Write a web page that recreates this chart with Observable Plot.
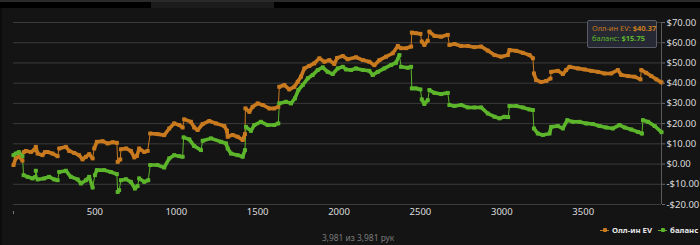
<!DOCTYPE html>
<html>
<head>
<meta charset="utf-8">
<script src="https://cdn.jsdelivr.net/npm/d3@7"></script>
<script src="https://cdn.jsdelivr.net/npm/@observablehq/plot@0.6"></script>
<style>
  html, body { margin: 0; padding: 0; background: #141414; }
  #wrap { position: relative; width: 700px; height: 245px; overflow: hidden; background: #141414; font-family: "Noto Sans", "Open Sans", sans-serif; }
  #topline { position: absolute; left: 0; top: 0; width: 700px; height: 2px; background: #2a2a2a; }
  #band { position: absolute; left: 0; top: 2px; width: 700px; height: 6px; background: #000; }
  #bandtab { position: absolute; left: 151px; top: 2px; width: 123px; height: 6px; background: #1c1c1c; }
  #leftedge { position: absolute; left: 0; top: 8px; width: 2px; height: 237px; background: #0c0c0c; }
  #chart { position: absolute; left: 0; top: 8px; }
  #tip { position: absolute; left: 587px; top: 20px; width: 64px; height: 23px; border: 1px solid #5a5d66; border-radius: 2px; background: #262933; font-size: 7.5px; line-height: 9.5px; padding: 3px 0 0 4px; box-sizing: content-box; white-space: nowrap; }
  #tip b { font-weight: 700; }
  #legend { position: absolute; left: 600px; top: 225px; font-size: 7.8px; font-weight: 700; color: #e8e8e8; white-space: nowrap; display: flex; align-items: center; }
  .ico { display: inline-block; position: relative; width: 9px; height: 9px; margin-right: 3px; }
  .ico i { position: absolute; left: 0; top: 4px; width: 9px; height: 1.5px; }
  .ico s { position: absolute; left: 2.5px; top: 2.5px; width: 4px; height: 4px; border-radius: 1px; }
  #caption { position: absolute; left: 322px; top: 232px; font-size: 8.4px; color: #7c7c7c; white-space: nowrap; }
</style>
</head>
<body>
<div id="wrap">
  <div id="topline"></div>
  <div id="band"></div>
  <div id="bandtab"></div>
  <div id="leftedge"></div>
  <div id="chart"></div>
  <div id="tip"></div>
  <div id="legend"></div>
  <div id="caption"></div>
</div>
<script>
// ---- data ----
const seriesNames = ["Олл-ин EV", "баланс"];
const seriesColors = ["#c97a1f", "#5cb52b"];

const evHands = [0,14,35,55,63,76,107,128,137,148,178,193,209,240,271,281,322,342,373,403,424,445,465,486,496,512,547,578,609,635,640,656,660,691,721,742,758,772,803,824,840,885,926,957,987,1018,1039,1049,1090,1110,1131,1162,1203,1244,1295,1311,1316,1346,1377,1408,1422,1425,1449,1469,1500,1531,1572,1602,1627,1633,1664,1694,1725,1746,1766,1787,1817,1848,1879,1910,1940,1971,1988,2023,2053,2104,2146,2186,2217,2248,2289,2330,2361,2381,2412,2443,2447,2473,2500,2508,2524,2545,2555,2586,2627,2668,2678,2709,2750,2791,2832,2873,2914,2955,2996,3037,3047,3088,3129,3170,3191,3197,3211,3242,3273,3299,3303,3344,3375,3395,3416,3467,3508,3549,3590,3631,3672,3713,3734,3775,3815,3852,3857,3887,3918,3949,3981];
const evValues = [-0.5,2.9,3.7,1.7,5.9,6.5,6.0,6.9,8.5,5.2,4.4,5.9,6.0,5.2,3.9,7.7,8.5,6.5,5.5,4.4,2.3,3.6,4.9,2.8,7.7,11.0,11.3,10.2,10.8,10.5,1.1,2.3,7.3,7.7,6.5,3.3,4.0,7.7,6.0,6.5,15.1,14.8,14.3,17.6,20.1,19.3,18.1,22.1,20.9,18.1,16.8,19.8,21.3,20.1,18.8,16.5,13.5,14.4,13.5,11.9,14.8,27.5,25.8,28.3,30.0,29.2,27.5,27.5,28.3,38.2,39.1,36.9,38.2,40.7,43.2,47.3,48.5,49.8,52.3,50.6,51.4,49.5,52.5,53.4,51.8,52.8,51.4,50.6,48.9,51.4,53.1,54.8,58.4,57.3,57.3,58.1,65.0,64.7,64.4,60.6,58.9,61.0,65.5,63.4,63.0,63.9,58.9,59.4,58.4,58.4,57.8,58.1,56.1,53.9,53.1,53.9,56.4,56.0,55.0,53.9,52.3,44.8,41.5,40.6,41.1,42.3,45.6,46.1,44.5,46.5,48.1,47.3,46.8,46.1,45.6,44.8,44.8,46.5,44.0,43.5,43.2,41.9,46.5,45.1,43.5,41.9,40.37];

const balHands = [0,14,33,55,62,86,117,134,137,148,188,219,250,271,281,322,352,394,414,445,465,486,500,512,557,598,635,640,649,660,691,721,746,762,772,803,828,840,885,926,957,987,1018,1039,1045,1080,1110,1152,1162,1213,1275,1306,1316,1336,1377,1408,1422,1428,1459,1479,1520,1562,1602,1627,1633,1674,1705,1729,1750,1777,1808,1838,1869,1900,1930,1961,1992,2023,2043,2074,2104,2146,2186,2207,2238,2278,2320,2350,2371,2381,2422,2443,2447,2473,2500,2508,2524,2545,2555,2586,2627,2668,2678,2709,2750,2791,2832,2873,2914,2955,2986,3016,3039,3047,3088,3129,3170,3191,3197,3221,3252,3293,3303,3344,3375,3402,3437,3477,3518,3559,3600,3641,3682,3723,3754,3795,3836,3861,3867,3898,3939,3981];
const balValues = [4.4,5.2,5.9,3.9,-5.5,-6.3,-7.1,-6.4,-3.3,-7.6,-7.1,-6.3,-7.6,-8.0,-3.9,-3.3,-6.3,-7.6,-9.6,-8.0,-6.3,-11.6,-5.5,-3.0,-3.0,-3.9,-5.0,-13.8,-12.9,-8.0,-7.5,-8.8,-12.1,-10.9,-7.1,-8.8,-8.0,-0.5,-0.5,-1.7,2.8,4.4,3.9,3.6,13.2,12.2,8.9,6.9,11.5,12.7,11.0,10.2,7.7,5.2,4.4,3.6,6.9,18.4,16.4,19.3,20.9,19.3,19.3,20.1,30.0,30.8,30.0,32.5,36.6,39.1,42.4,44.0,46.5,47.8,45.6,44.5,47.3,48.1,46.8,46.5,47.3,46.5,46.1,44.0,45.6,47.3,49.0,50.1,53.9,48.1,47.6,48.1,37.4,37.4,36.9,32.0,29.7,31.6,36.6,35.2,34.6,35.2,29.2,28.7,29.2,28.0,28.0,28.0,25.0,23.4,22.6,23.4,23.2,28.7,28.7,28.0,27.0,26.7,17.6,15.1,14.4,15.1,18.4,18.8,17.6,21.7,20.9,20.9,20.1,19.8,18.8,18.1,17.6,19.3,18.1,17.1,15.9,15.1,21.7,20.9,18.8,15.75];

const xTicks = [500, 1000, 1500, 2000, 2500, 3000, 3500];
const yTicks = [-20, -10, 0, 10, 20, 30, 40, 50, 60, 70];
const totalHands = 3981;
const captionText = "3,981 из 3,981 рук";
const tipLabels = ["Олл-ин EV: ", "баланс: "];
const tipValues = ["$40.37", "$15.75"];

// ---- build rows; split into continuous segments at abrupt jumps ----
function rows(hands, values, name) {
  let seg = 0;
  return hands.map((h, i) => {
    if (i > 0) {
      const dv = Math.abs(values[i] - values[i - 1]);
      const dh = hands[i] - hands[i - 1];
      if (dv > 3 && dv / dh > 0.35) seg++;
    }
    return {h, v: values[i], series: name, seg: name + seg};
  });
}
const evRows = rows(evHands, evValues, seriesNames[0]);
const balRows = rows(balHands, balValues, seriesNames[1]);

const fmt = d => (d < 0 ? "-" : "") + "$" + Math.abs(d).toFixed(2);

const chart = Plot.plot({
  width: 700,
  height: 212,
  marginLeft: 13,
  marginRight: 39,
  marginTop: 14,
  marginBottom: 16,
  style: {background: "transparent", color: "#dcdcdc", fontSize: "9.5px", fontFamily: "Noto Sans, Open Sans, sans-serif"},
  x: {type: "linear", domain: [0, totalHands], label: null},
  y: {type: "linear", domain: [-20, 70], label: null},
  marks: [
    Plot.ruleY(yTicks, {stroke: "#3b3b3b", strokeWidth: 1}),
    Plot.ruleX([totalHands], {y1: -20, y2: 70, stroke: "#5a5a5a", strokeWidth: 1}),
    Plot.line(evRows, {x: "h", y: "v", stroke: seriesColors[0], strokeWidth: 1}),
    Plot.line(balRows, {x: "h", y: "v", stroke: seriesColors[1], strokeWidth: 1}),
    Plot.line(evRows, {x: "h", y: "v", z: "seg", stroke: seriesColors[0], strokeWidth: 3.6, strokeLinejoin: "round", strokeLinecap: "round"}),
    Plot.line(balRows, {x: "h", y: "v", z: "seg", stroke: seriesColors[1], strokeWidth: 3.6, strokeLinejoin: "round", strokeLinecap: "round"}),
    Plot.dot(evRows, {x: "h", y: "v", r: 2.2, fill: seriesColors[0], symbol: "square"}),
    Plot.dot(balRows, {x: "h", y: "v", r: 2.2, fill: seriesColors[1], symbol: "square"}),
    Plot.axisY({anchor: "right", ticks: yTicks, tickFormat: fmt, tickSize: 3, tickPadding: 2, stroke: "#6a6a6a", fill: "#dcdcdc", label: null}),
    Plot.axisX({ticks: xTicks, tickFormat: d => String(d), tickSize: 0, tickPadding: 4, fill: "#dcdcdc", label: null}),
    Plot.axisX({ticks: [0], tickFormat: () => "", tickSize: 3, dy: 7, stroke: "#777", label: null})
  ]
});
document.getElementById("chart").appendChild(chart);

// tooltip
const tip = document.getElementById("tip");
tip.innerHTML = seriesNames.map((n, i) =>
  `<div style="color:${seriesColors[i]}">${tipLabels[i]}<b>${tipValues[i]}</b></div>`).join("");

// legend
const legend = document.getElementById("legend");
legend.innerHTML = seriesNames.map((n, i) =>
  `<span class="ico"><i style="background:${seriesColors[i]}"></i><s style="background:${seriesColors[i]}"></s></span><span style="margin-right:${i === 0 ? 6 : 0}px">${n}</span>`).join("");

document.getElementById("caption").textContent = captionText;
</script>
</body>
</html>
